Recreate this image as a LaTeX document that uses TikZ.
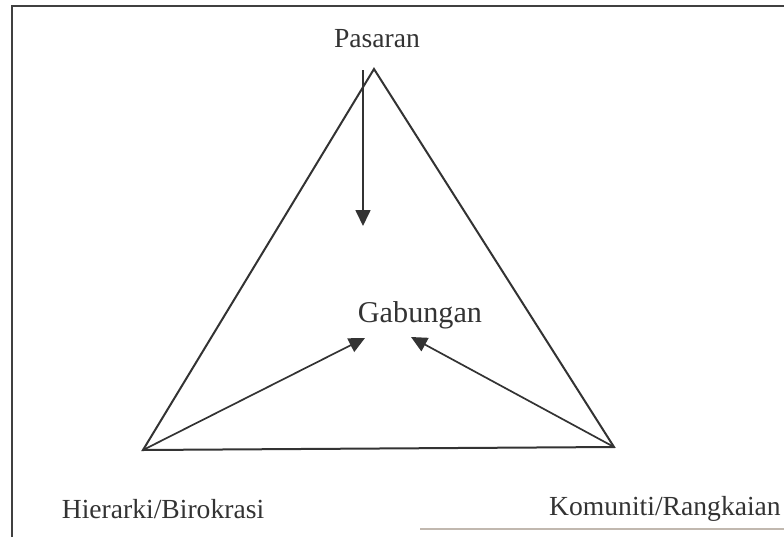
\documentclass[tikz,border=0pt]{standalone}
\usepackage{fontspec}
\setmainfont{Liberation Serif}
\usetikzlibrary{arrows.meta}
\begin{document}
\begin{tikzpicture}[x=0.5pt,y=-0.5pt,
  lbl/.style={inner sep=0pt,font=\fontsize{13.8}{16}\selectfont,text=black!80},
  biglbl/.style={lbl,font=\fontsize{15.1}{17}\selectfont},
  edge/.style={draw=black!80,line width=1pt,line join=miter},
  arr/.style={draw=black!80,line width=0.85pt,-{Triangle[length=8pt,width=7.5pt]}},
  frame/.style={draw=black!75,line width=0.9pt}]
\useasboundingbox (0,0) rectangle (784,537);
% frame
\draw[frame] (12,537) -- (12,6) -- (784,6);
\draw[draw=brown!40!black!35,line width=0.6pt] (420,529) -- (784,529);
% vertices
\coordinate (P) at (374,69);
\coordinate (H) at (143,450);
\coordinate (K) at (614,447);
\coordinate (Ps) at (363,70);
\coordinate (Pt) at (363,226);
\coordinate (Ht) at (365,338);
\coordinate (Kt) at (411,337);
% labels
\node[lbl] (pasaran) at (377,39) {Pasaran};
\node[biglbl,anchor=base] (gab) at (420,322) {Gabungan};
\node[lbl,anchor=base] (hier) at (163,518) {Hierarki/Birokrasi};
\node[lbl,anchor=base] (kom) at (665,515) {Komuniti/Rangkaian};
% triangle
\draw[edge] (P) -- (K) -- (H) -- cycle;
% arrows
\draw[arr] (Ps) -- (Pt);
\draw[arr] (H) -- (Ht);
\draw[arr] (K) -- (Kt);
\end{tikzpicture}
\end{document}
